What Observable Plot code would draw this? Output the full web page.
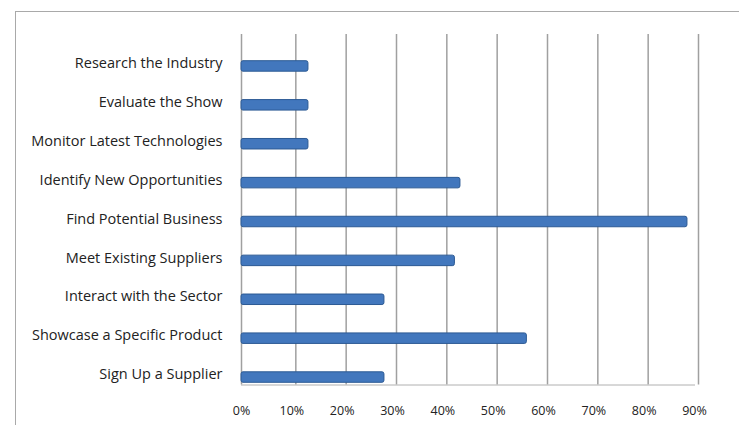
<!DOCTYPE html>
<html>
<head>
<meta charset="utf-8">
<script src="https://cdn.jsdelivr.net/npm/d3@7"></script>
<script src="https://cdn.jsdelivr.net/npm/@observablehq/plot@0.6"></script>
<style>
  html, body { margin: 0; padding: 0; background: #ffffff; }
  #wrap { position: relative; width: 739px; height: 425px; overflow: hidden; }
  #box { position: absolute; left: 15px; top: 11px; width: 740px; height: 430px;
         border-top: 1.5px solid #a9a9a9; border-left: 1.5px solid #a9a9a9; }
  #chart { position: absolute; left: 0; top: 0; }
</style>
</head>
<body>
<div id="wrap"><div id="box"></div><div id="chart"></div></div>
<script>
const categories = [
  "Research the Industry",
  "Evaluate the Show",
  "Monitor Latest Technologies",
  "Identify New Opportunities",
  "Find Potential Business",
  "Meet Existing Suppliers",
  "Interact with the Sector",
  "Showcase a Specific Product",
  "Sign Up a Supplier"
];
const values = [0.133, 0.133, 0.133, 0.435, 0.886, 0.424, 0.284, 0.567, 0.284];
const xTicks = [0, 0.1, 0.2, 0.3, 0.4, 0.5, 0.6, 0.7, 0.8, 0.9];

const data = categories.map((c, i) => ({category: c, value: values[i]}));

const chart = Plot.plot({
  width: 739,
  height: 425,
  marginLeft: 241,
  marginRight: 45,
  marginTop: 46.5,
  marginBottom: 28.5,
  style: {background: "transparent", fontFamily: "'Open Sans', Lato, sans-serif"},
  x: {domain: [0, 0.9], ticks: xTicks},
  y: {domain: categories, paddingInner: 0.73, paddingOuter: 0.365, round: false, axis: null},
  marks: [
    Plot.gridX(xTicks.slice(1), {stroke: "#a0a0a0", strokeOpacity: 1, strokeWidth: 1.5, insetTop: -12.5, insetBottom: 12, dx: 4}),
    Plot.ruleX([0], {stroke: "#a0a0a0", strokeWidth: 1.5, insetTop: -12.5, insetBottom: 12}),
    Plot.frame({anchor: "bottom", stroke: "#b0b0b0", strokeWidth: 1, insetBottom: 12}),
    Plot.barX(data, {x: "value", y: "category", fill: "#4277bd", stroke: "#2c5a94", strokeWidth: 1, rx: 2}),
    Plot.text(data, {x: 0, y: "category", text: "category", textAnchor: "end", dx: -19, dy: -3, fontSize: 14.5, fill: "#222"}),
    Plot.axisX({ticks: xTicks, tickFormat: d => Math.round(d * 100) + "%", tickSize: 0, tickPadding: 9, fontSize: 12.5, fill: "#222", label: null})
  ]
});
document.getElementById("chart").appendChild(chart);
</script>
</body>
</html>
